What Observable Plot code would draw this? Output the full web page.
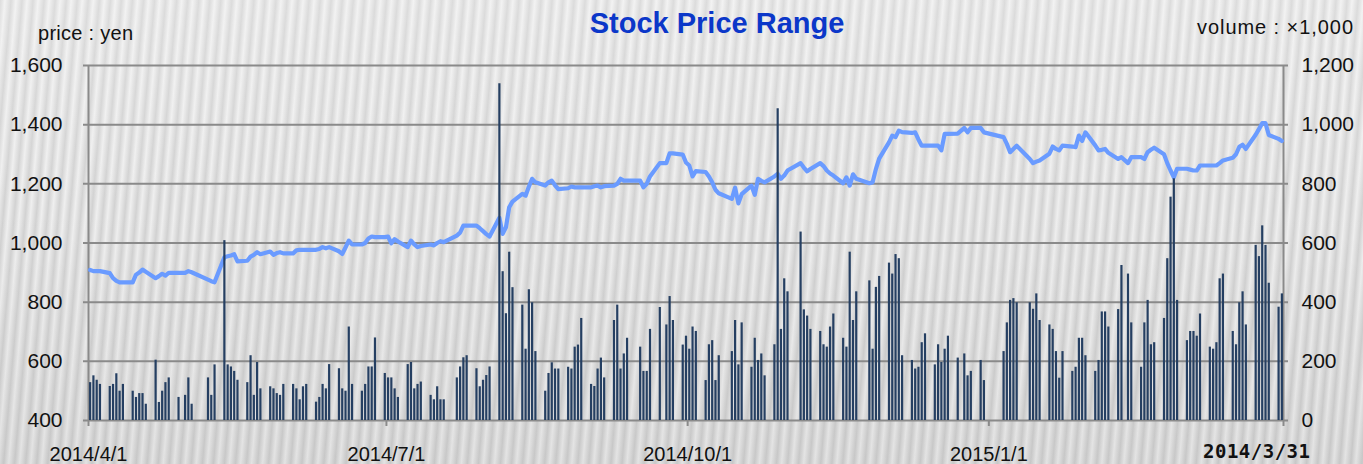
<!DOCTYPE html>
<html><head><meta charset="utf-8">
<script src="https://cdn.jsdelivr.net/npm/d3@7"></script>
<script src="https://cdn.jsdelivr.net/npm/@observablehq/plot@0.6"></script>
<style>
html,body{margin:0;padding:0;}
body{width:1363px;height:464px;overflow:hidden;background-color:#e0e0e0;
background-image:
 linear-gradient(to bottom, rgba(255,255,255,0.22), rgba(255,255,255,0) 45%, rgba(0,0,0,0.05)),
 repeating-linear-gradient(95deg, #d2d2d2 0px, #efefef 5px, #d2d2d2 11px);}
#chart svg{display:block;}
</style></head><body><div id="chart"></div><script>
// ---- data ----
const firstMonday = "2014-03-31";           // week 0 starts on this Monday
const axisStart = "2014-04-01";
const axisEnd = "2015-04-01";
const priceTicks = [400, 600, 800, 1000, 1200, 1400, 1600];
const volumeTicks = [0, 200, 400, 600, 800, 1000, 1200];
const xTickDates = ["2014-04-01", "2014-07-01", "2014-10-01", "2015-01-01"];
const xTickLabels = ["2014/4/1", "2014/7/1", "2014/10/1", "2015/1/1"];
const endLabel = "2014/3/31";
const titleText = "Stock Price Range";
const leftUnit = "price : yen";
const rightUnit = "volume : ×1,000";

// volume (x1,000), Mon..Fri for each week; null = no bar
const volumeWeeks = [
  [null,128,151,136,122],[115,122,158,99,122],[99,78,91,91,55],[204,61,99,128,144],
  [78,null,85,144,55],[null,null,144,85,188],[608,188,181,166,136],[128,219,85,196,107],
  [114,107,91,85,122],[122,107,70,114,122],[62,78,122,107,189],[175,107,99,316,122],
  [99,122,181,181,279],[159,144,144,107,78],[189,196,107,122,130],[85,70,114,70,70],
  [null,144,181,212,219],[175,114,136,152,181],[1138,503,361,569,449],[390,241,442,398,233],
  [99,159,195,174,174],[180,174,248,255,345],[122,115,174,211,144],[338,390,174,225,278],
  [null,248,166,166,308],[382,null,323,419,338],[255,285,241,316,301],[135,256,270,135,219],
  [null,233,338,188,330],[180,278,203,225,151],[256,1054,308,479,435],[null,637,374,353,308],
  [301,256,248,316,360],[278,248,569,338,435],[null,472,241,450,487],[532,495,561,547,219],
  [203,174,180,263,293],[188,256,196,241,285],[211,null,225,151,166],[203,135,null,null,null],
  [233,330,406,412,398],[null,398,376,428,338],[323,308,233,143,233],[166,180,278,278,219],
  [166,203,367,367,316],[375,524,null,495,330],[180,330,406,256,263],[345,547,755,817,406],
  [270,301,301,285,360],[248,241,263,479,495],[301,256,398,435,323],[592,554,658,592,464],
  [383,428,null,null,null]
];

// closing price (yen), Mon..Fri for each week; null = market closed
const priceWeeks = [
  [null,909,905,905,905],[898,881,872,867,867],[867,893,900,910,903],[881,888,896,890,899],
  [899,null,899,905,901],[null,null,876,871,867],[952,955,958,962,938],[940,954,960,969,962],
  [971,960,966,969,965],[965,975,977,977,977],[977,980,986,982,986],[972,963,985,1008,995],
  [995,1000,1015,1022,1020],[1020,1022,999,1013,1005],[986,1008,995,986,990],[995,992,1000,1006,1003],
  [null,1025,1035,1059,1059],[1059,1050,1040,1030,1022],[1085,1031,1053,1121,1140],[1166,1160,1190,1217,1205],
  [1194,1205,1211,1195,1182],[1185,1191,1188,1188,1188],[1188,1192,1194,1188,1192],[1194,1200,1217,1211,1211],
  [null,1211,1188,1200,1225],[1270,null,1270,1303,1303],[1299,1272,1262,1225,1243],[1240,1225,1205,1180,1168],
  [null,1149,1187,1134,1165],[1194,1163,1217,1210,1205],[1225,1234,1217,1228,1245],[null,1270,1255,1242,1250],
  [1270,1260,1245,1235,1228],[1202,1222,1194,1232,1217],[null,1202,1205,1250,1285],[1340,1363,1358,1380,1375],
  [1372,1374,1350,1329,1329],[1329,1329,1313,1369,1369],[1370,null,1389,1374,1389],[1389,1374,null,null,null],
  [1358,1335,1307,1318,1329],[null,1284,1270,1275,1279],[1302,1326,1318,1313,1329],[1326,1324,1363,1345,1374],
  [1330,1313,1315,1318,1305],[1284,1290,null,1270,1290],[1290,1284,1307,1315,1322],[1300,1270,1245,1222,1251],
  [1251,1248,1245,1245,1262],[1262,1262,1262,1270,1279],[1288,1300,1325,1332,1318],[1366,1385,1405,1405,1365],
  [1352,1345,null,null,null]
];

// ---- build table ----
const parse = d3.utcParse("%Y-%m-%d");
const yMin = priceTicks[0], yMax = priceTicks[priceTicks.length - 1];
const vMax = volumeTicks[volumeTicks.length - 1];
const volToY = v => yMin + v * (yMax - yMin) / vMax;
const yToVol = y => (y - yMin) * vMax / (yMax - yMin);
const rows = [];
volumeWeeks.forEach((week, w) => week.forEach((vol, i) => {
  const day = d3.utcDay.offset(parse(firstMonday), w * 7 + i);
  rows.push({date: d3.utcHour.offset(day, 12), volume: vol, price: priceWeeks[w][i]});
}));
const xDomain = [parse(axisStart), parse(axisEnd)];
const labelByTime = new Map(xTickDates.map((d, i) => [+parse(d), xTickLabels[i]]));

const grid = "#8a8a8a";
const chart = Plot.plot({
  width: 1363, height: 464,
  marginTop: 65, marginBottom: 44, marginLeft: 88, marginRight: 80,
  style: {background: "transparent", fontFamily: "'Liberation Sans', Arial, sans-serif", color: "#111", overflow: "visible"},
  x: {type: "utc", domain: xDomain},
  y: {domain: [yMin, yMax]},
  marks: [
    Plot.ruleY(priceTicks, {stroke: grid, strokeWidth: 2, insetLeft: -5, insetRight: -5}),
    Plot.ruleX(xDomain, {stroke: grid, strokeWidth: 2}),
    Plot.axisY({anchor: "left", ticks: priceTicks, tickSize: 0, tickPadding: 26,
      tickFormat: d3.format(","), fontSize: 21, fill: "#111", label: null}),
    Plot.axisY({anchor: "right", ticks: priceTicks, tickSize: 0, tickPadding: 18,
      tickFormat: d => d3.format(",")(Math.round(yToVol(d))), fontSize: 21, fill: "#111", label: null}),
    Plot.axisX({ticks: [...xTickDates.map(parse), parse(axisEnd)], tickSize: 6, tickPadding: 20,
      tickFormat: d => labelByTime.get(+d) ?? "", fontSize: 20, stroke: grid, strokeWidth: 2, fill: "#111", label: null}),
    Plot.line(rows.filter(d => d.price != null), {x: "date", y: "price", stroke: "#6a9bff",
      strokeWidth: 4.2, strokeLinejoin: "round", strokeLinecap: "round"}),
    Plot.ruleX(rows.filter(d => d.volume != null), {x: "date", y1: yMin, y2: d => volToY(d.volume),
      stroke: "#253f62", strokeWidth: 2.2})
  ]
});
document.getElementById("chart").appendChild(chart);

const svg = d3.select(chart);
const sans = "'Liberation Sans', Arial, sans-serif";
svg.append("text").attr("x", 717).attr("y", 33).attr("text-anchor", "middle")
  .attr("font-family", sans).attr("font-weight", "bold")
  .attr("font-size", 29).attr("fill", "#0b37c9").text(titleText);
svg.append("text").attr("x", 38).attr("y", 40).attr("text-anchor", "start")
  .attr("font-family", sans).attr("font-size", 20)
  .attr("fill", "#111").attr("textLength", 95).attr("lengthAdjust", "spacing").text(leftUnit);
svg.append("text").attr("x", 1197).attr("y", 34).attr("text-anchor", "start")
  .attr("font-family", sans).attr("font-size", 20)
  .attr("fill", "#111").attr("textLength", 156).attr("lengthAdjust", "spacing").text(rightUnit);
const xEnd = chart.scale("x").apply(parse(axisEnd));
svg.append("text").attr("x", xEnd - 80).attr("y", 458).attr("text-anchor", "start")
  .attr("font-family", "'DejaVu Sans Mono', monospace").attr("font-weight", "bold")
  .attr("font-size", 19).attr("fill", "#111").attr("textLength", 107).attr("lengthAdjust", "spacing")
  .text(endLabel);
</script></body></html>
